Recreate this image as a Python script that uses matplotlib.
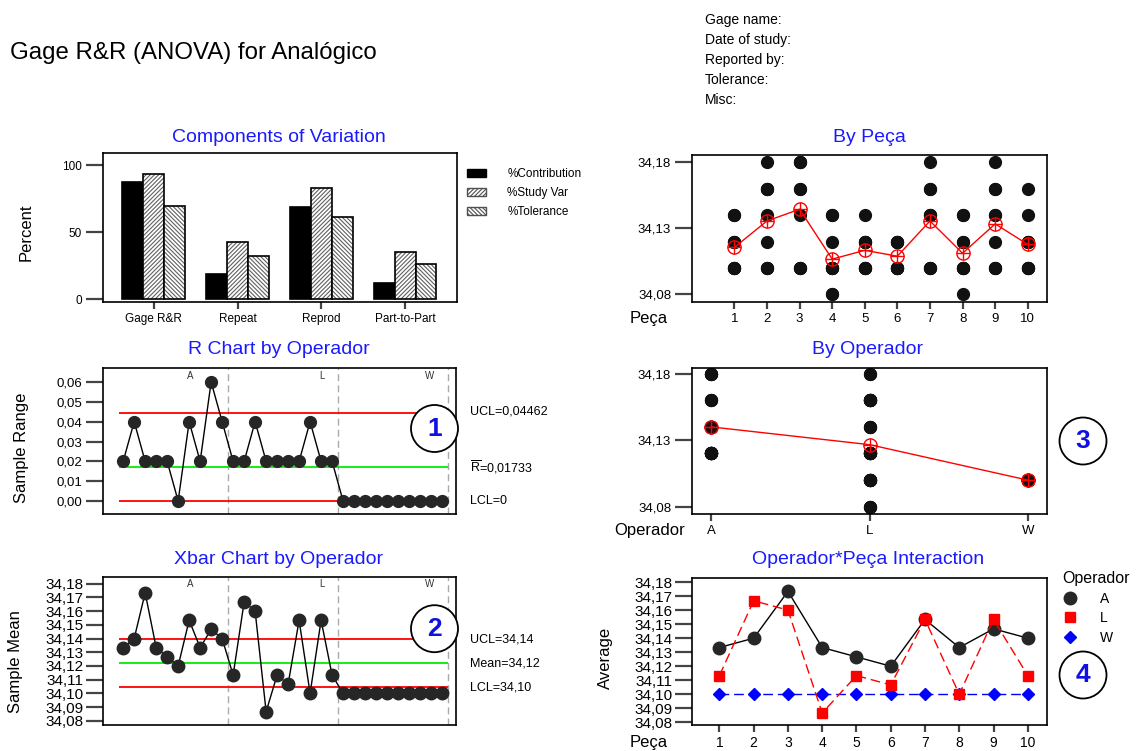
import numpy as np
import matplotlib
matplotlib.use('Agg')
import matplotlib.pyplot as plt
from matplotlib.patches import Patch, Circle
from matplotlib.lines import Line2D

plt.rcParams['font.family'] = ['Liberation Sans', 'DejaVu Sans']
plt.rcParams['mathtext.fontset'] = 'custom'
plt.rcParams['mathtext.rm'] = 'Liberation Sans'
plt.rcParams['hatch.linewidth'] = 0.8

# ---- data ----
components = ['Gage R&R', 'Repeat', 'Reprod', 'Part-to-Part']
pct_contribution = [87.6, 18.9, 68.9, 11.7]
pct_study_var = [93.0, 42.8, 83.1, 34.8]
pct_tolerance = [69.7, 32.3, 61.4, 25.9]

operators = ['A', 'L', 'W']
parts = [1, 2, 3, 4, 5, 6, 7, 8, 9, 10]

# 3 trials per part
meas_A = [[34.14, 34.14, 34.12], [34.12, 34.14, 34.16], [34.18, 34.18, 34.16],
          [34.14, 34.14, 34.12], [34.12, 34.12, 34.14], [34.12, 34.12, 34.12],
          [34.18, 34.14, 34.14], [34.14, 34.14, 34.12], [34.12, 34.18, 34.14],
          [34.12, 34.14, 34.16]]
meas_L = [[34.12, 34.12, 34.10], [34.16, 34.16, 34.18], [34.14, 34.16, 34.18],
          [34.08, 34.08, 34.10], [34.12, 34.12, 34.10], [34.10, 34.10, 34.12],
          [34.16, 34.16, 34.14], [34.08, 34.10, 34.12], [34.16, 34.16, 34.14],
          [34.12, 34.12, 34.10]]
meas_W = [[34.10, 34.10, 34.10]] * 10

r_ucl, r_bar, r_lcl = 0.04462, 0.01733, 0.0
x_ucl, x_mean, x_lcl = 34.13995, 34.1222, 34.1045

# ---- layout helpers ----
W, H = 1139, 751
fig = plt.figure(figsize=(W / 100, H / 100), dpi=100)


def px_ax(left, top, right, bottom):
    return fig.add_axes([left / W, 1 - bottom / H, (right - left) / W, (bottom - top) / H])


def ftext(x, y, s, **kw):
    fig.text(x / W, 1 - y / H, s, **kw)


def style(ax, ysize):
    for sp in ax.spines.values():
        sp.set_linewidth(1.2)
        sp.set_color('black')
    ax.tick_params(axis='y', direction='out', length=12, width=1.6, color='#444',
                   labelsize=ysize, pad=3)
    ax.tick_params(axis='x', direction='out', length=5, width=1.6, color='#444',
                   labelsize=9.5, pad=3)


def comma(v, d=2):
    return f'{v:.{d}f}'.replace('.', ',')


def badge(x, y, s):
    fig.add_artist(Circle((x / 100, (H - y) / 100), 0.235, transform=fig.dpi_scale_trans,
                          fc='white', ec='black', lw=1.3, zorder=5))
    ftext(x, y, s, ha='center', va='center', fontsize=19, fontweight='bold',
          color='#1010e0', zorder=6)


data = np.array([meas_A, meas_L, meas_W])          # op, part, trial
xbar = data.mean(axis=2).ravel()
ranges = (data.max(axis=2) - data.min(axis=2)).ravel()
subgroups = np.arange(1, len(xbar) + 1)

blue = '#1a1aff'
dot = '#262626'

# ---- header ----
ftext(10, 53, 'Gage R&R (ANOVA) for Analógico', fontsize=17.3, va='center')
for i, s in enumerate(['Gage name:', 'Date of study:', 'Reported by:', 'Tolerance:', 'Misc:']):
    ftext(705, 20 + i * 20, s, fontsize=10, va='center')

# ---- Components of Variation ----
ax1 = px_ax(103, 153, 457, 302)
xc = np.arange(len(components))
bw = 0.25
ax1.bar(xc - bw, pct_contribution, bw, color='black', edgecolor='black', lw=1.2)
for vals, off, hatch in [(pct_study_var, 0, '////////'), (pct_tolerance, bw, '\\\\\\\\\\\\\\\\')]:
    ax1.bar(xc + off, vals, bw, color='white', edgecolor='#606060', hatch=hatch, lw=0)
    ax1.bar(xc + off, vals, bw, fill=False, edgecolor='black', lw=1.2)
ax1.set_xlim(-0.607, 3.62)
ax1.set_ylim(-2.2, 109)
ax1.set_xticks(xc, components)
ax1.set_yticks([0, 50, 100])
style(ax1, 8.5)
ax1.tick_params(axis='x', labelsize=8.5)
ftext(279, 137, 'Components of Variation', ha='center', va='center', fontsize=14, color=blue)
ftext(26, 232, 'Percent', ha='center', va='center', rotation=90, fontsize=12)
leg_handles = [Patch(fc='black', ec='black', lw=1),
               Patch(fc='white', ec='#505050', hatch='////////', lw=1),
               Patch(fc='white', ec='#505050', hatch='\\\\\\\\\\\\\\\\', lw=1)]
ax1.legend(leg_handles, ['%Contribution', '%Study Var', '%Tolerance'], loc='upper left',
           bbox_to_anchor=(467 / W, 1 - 168 / H), bbox_transform=fig.transFigure,
           frameon=False, fontsize=8.5, handlelength=1.6, handleheight=0.62,
           handletextpad=1.8, labelspacing=0.6, borderpad=0, borderaxespad=0)

# ---- R chart ----
ax2 = px_ax(103, 368, 456, 514)
ax2.plot(subgroups, ranges, '-o', color='black', lw=1, mfc=dot, mec=dot, ms=8.5, zorder=3)
ax2.hlines([r_ucl, r_lcl], 0.6, 30.5, colors='red', lw=1.3, zorder=2)
ax2.hlines(r_bar, 0.6, 30.5, colors='#00ee00', lw=1.3, zorder=2)
for d in [10.5, 20.5, 30.5]:
    ax2.axvline(d, color='#aaaaaa', lw=1, ls=(0, (5, 3)), zorder=1)
for p, op in zip([7.1, 19.1, 28.9], operators):
    ax2.text(p, 0.0655, op, ha='center', va='top', fontsize=7, color='#333')
ax2.set_xlim(-0.836, 31.27)
ax2.set_ylim(-0.00654, 0.06705)
rt = [0.0, 0.01, 0.02, 0.03, 0.04, 0.05, 0.06]
ax2.set_yticks(rt, [comma(v) for v in rt])
ax2.set_xticks([])
style(ax2, 9.5)
ftext(279, 350, 'R Chart by Operador', ha='center', va='center', fontsize=14, color=blue)
ftext(22, 448, 'Sample Range', ha='center', va='center', rotation=90, fontsize=12)
ftext(470, 412, 'UCL=' + comma(r_ucl, 5), va='center', fontsize=9)
ftext(470, 467, r'$\overline{\mathrm{R}}$=' + comma(r_bar, 5), va='center', fontsize=9)
ftext(470, 501, 'LCL=0', va='center', fontsize=9)
badge(434.5, 428.5, '1')

# ---- Xbar chart ----
ax3 = px_ax(103, 577, 456, 725)
ax3.plot(subgroups, xbar, '-o', color='black', lw=1, mfc=dot, mec=dot, ms=9, zorder=3)
ax3.hlines([x_ucl, x_lcl], 0.6, 30.5, colors='red', lw=1.3, zorder=2)
ax3.hlines(x_mean, 0.6, 30.5, colors='#00ee00', lw=1.3, zorder=2)
for d in [10.5, 20.5, 30.5]:
    ax3.axvline(d, color='#aaaaaa', lw=1, ls=(0, (5, 3)), zorder=1)
for p, op in zip([7.1, 19.1, 28.9], operators):
    ax3.text(p, 34.1838, op, ha='center', va='top', fontsize=7, color='#333')
ax3.set_xlim(-0.836, 31.27)
ax3.set_ylim(34.0769, 34.1849)
yt = np.round(np.arange(34.08, 34.1801, 0.01), 2)
ax3.set_yticks(yt, [comma(v) for v in yt])
ax3.set_xticks([])
style(ax3, 11)
ax3.tick_params(axis='y', pad=2)
ftext(279, 560, 'Xbar Chart by Operador', ha='center', va='center', fontsize=14, color=blue)
ftext(16, 662, 'Sample Mean', ha='center', va='center', rotation=90, fontsize=12)
ftext(470, 639, 'UCL=' + comma(x_ucl), va='center', fontsize=9)
ftext(470, 663, 'Mean=' + comma(x_mean), va='center', fontsize=9)
ftext(470, 687, 'LCL=' + comma(x_lcl), va='center', fontsize=9)
badge(434.5, 628.7, '2')

# ---- By Peça ----
ax4 = px_ax(692, 155, 1047, 302)
part_vals = data.transpose(1, 0, 2).reshape(len(parts), -1)
for p, vals in zip(parts, part_vals):
    ax4.plot([p] * len(vals), vals, 'o', color='#111', ms=8.5, zorder=2)
ax4.plot(parts, part_vals.mean(axis=1), '-o', color='red', lw=1, mfc='none', mec='red',
         ms=9.5, mew=1, zorder=3)
ax4.plot(parts, part_vals.mean(axis=1), '+', color='red', ms=9.5, mew=1, zorder=3)
ax4.set_xlim(-0.30, 10.59)
ax4.set_ylim(34.0742, 34.1855)
ax4.set_yticks([34.08, 34.13, 34.18], ['34,08', '34,13', '34,18'])
ax4.set_xticks(parts)
style(ax4, 9.5)
ftext(869, 137, 'By Peça', ha='center', va='center', fontsize=14, color=blue)
ftext(630, 319, 'Peça', va='center', fontsize=12)

# ---- By Operador ----
ax5 = px_ax(692, 368, 1047, 514)
op_pos = np.arange(1, len(operators) + 1)
op_vals = data.reshape(len(operators), -1)
for p, vals in zip(op_pos, op_vals):
    ax5.plot([p] * len(vals), vals, 'o', color='#111', ms=8.5, zorder=2)
ax5.plot(op_pos, op_vals.mean(axis=1), '-o', color='red', lw=1, mfc='none', mec='red',
         ms=9.5, mew=1, zorder=3)
ax5.plot(op_pos, op_vals.mean(axis=1), '+', color='red', ms=9.5, mew=1, zorder=3)
ax5.set_xlim(0.878, 3.122)
ax5.set_ylim(34.0745, 34.1843)
ax5.set_yticks([34.08, 34.13, 34.18], ['34,08', '34,13', '34,18'])
ax5.set_xticks(op_pos, operators)
style(ax5, 9.5)
ftext(868, 350, 'By Operador', ha='center', va='center', fontsize=14, color=blue)
ftext(614, 531, 'Operador', va='center', fontsize=12)
badge(1083, 441, '3')

# ---- Interaction ----
ax6 = px_ax(692, 578, 1047, 725)
xb = data.mean(axis=2)
ax6.plot(parts, xb[0], '-o', color='black', lw=1, mfc=dot, mec=dot, ms=9, zorder=3)
ax6.plot(parts, xb[1], 's', ls=(0, (7, 3.5)), color='red', lw=1, ms=7, zorder=4)
ax6.plot(parts, xb[2], 'D', ls=(0, (7, 3.5)), color='#0000ff', lw=1, ms=6, zorder=2)
ax6.set_xlim(0.2, 10.56)
ax6.set_ylim(34.0781, 34.1829)
ax6.set_yticks(yt, [comma(v) for v in yt])
ax6.set_xticks(parts)
style(ax6, 11)
ax6.tick_params(axis='y', pad=2)
ax6.tick_params(axis='x', labelsize=10)
ftext(868, 560, 'Operador*Peça Interaction', ha='center', va='center', fontsize=14, color=blue)
ftext(605, 658, 'Average', ha='center', va='center', rotation=90, fontsize=12)
ftext(630, 742, 'Peça', va='center', fontsize=12)
op_handles = [Line2D([], [], ls='none', marker='o', color=dot, ms=9),
              Line2D([], [], ls='none', marker='s', color='red', ms=7),
              Line2D([], [], ls='none', marker='D', color='#0000ff', ms=6)]
ax6.legend(op_handles, operators, title='Operador', loc='upper left',
           bbox_to_anchor=(1062 / W, 1 - 571 / H), bbox_transform=fig.transFigure,
           frameon=False, fontsize=10, title_fontsize=11.5, alignment='left',
           handlelength=1.2, handletextpad=1.5, labelspacing=0.4, borderpad=0,
           borderaxespad=0)
badge(1083, 675, '4')

fig.savefig('out.png', dpi=100)
